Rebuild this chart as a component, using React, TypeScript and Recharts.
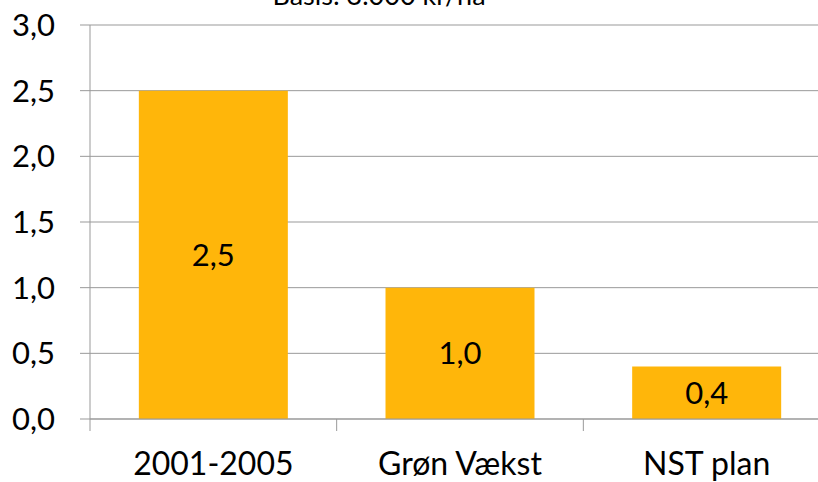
import React from "react";
import { BarChart, Bar, XAxis, YAxis, CartesianGrid, LabelList } from "recharts";

const categories = ["2001-2005", "Grøn Vækst", "NST plan"];
const values = [2.5, 1.0, 0.4];
const yTicks = [0, 0.5, 1, 1.5, 2, 2.5, 3];
const title = "Basis: 3.000 kr/ha";

const data = categories.map((c, i) => ({ name: c, value: values[i] }));

const FONT = "Lato, 'Open Sans', sans-serif";
const GRID = "#999999";

const fmt = (v: number) => v.toFixed(1).replace(".", ",");

const CatTick = (props: any) => {
  const { x, y, payload, index, visibleTicksCount } = props;
  const off = payload && typeof payload.offset === "number" ? payload.offset : 0;
  const isLast = index === (visibleTicksCount ?? categories.length) - 1;
  return (
    <g>
      <line x1={x - off} x2={x - off} y1={y - 12} y2={y} stroke={GRID} strokeWidth={1} />
      {isLast && (
        <line x1={x + off} x2={x + off} y1={y - 12} y2={y} stroke={GRID} strokeWidth={1} />
      )}
      <text x={x} y={y} dy={44} textAnchor="middle" fill="#000" fontSize={32} fontFamily={FONT}>
        {payload.value}
      </text>
    </g>
  );
};

export default function App() {
  return (
    <div style={{ position: "absolute", left: 0, top: 0, width: 818, height: 482, overflow: "hidden", background: "#fff" }}>
      <BarChart
        width={840}
        height={482}
        data={data}
        margin={{ top: 25, right: 10, bottom: 0, left: 0 }}
        barCategoryGap="19.8%"
      >
        <CartesianGrid vertical={false} stroke={GRID} strokeDasharray="" />
        <XAxis
          dataKey="name"
          height={63}
          axisLine={{ stroke: GRID }}
          tickLine={false}
          tickSize={12}
          tickMargin={0}
          tick={<CatTick />}
          interval={0}
        />
        <YAxis
          width={90}
          domain={[0, 3]}
          ticks={yTicks}
          tickFormatter={fmt}
          axisLine={{ stroke: GRID }}
          tickLine={{ stroke: GRID }}
          tickSize={10}
          tickMargin={25}
          tick={{ fill: "#000", fontSize: 31, fontFamily: FONT }}
          interval={0}
        />
        <Bar dataKey="value" fill="#FFB60A" isAnimationActive={false}>
          <LabelList
            dataKey="value"
            position="center"
            formatter={(v: any) => fmt(Number(v))}
            fill="#000"
            fontSize={31}
            fontFamily={FONT}
          />
        </Bar>
      </BarChart>
      <svg width={818} height={482} style={{ position: "absolute", left: 0, top: 0, pointerEvents: "none" }}>
        <text x={379} y={5} textAnchor="middle" fontSize={27} fontFamily={FONT} fill="#000">
          {title}
        </text>
      </svg>
    </div>
  );
}
